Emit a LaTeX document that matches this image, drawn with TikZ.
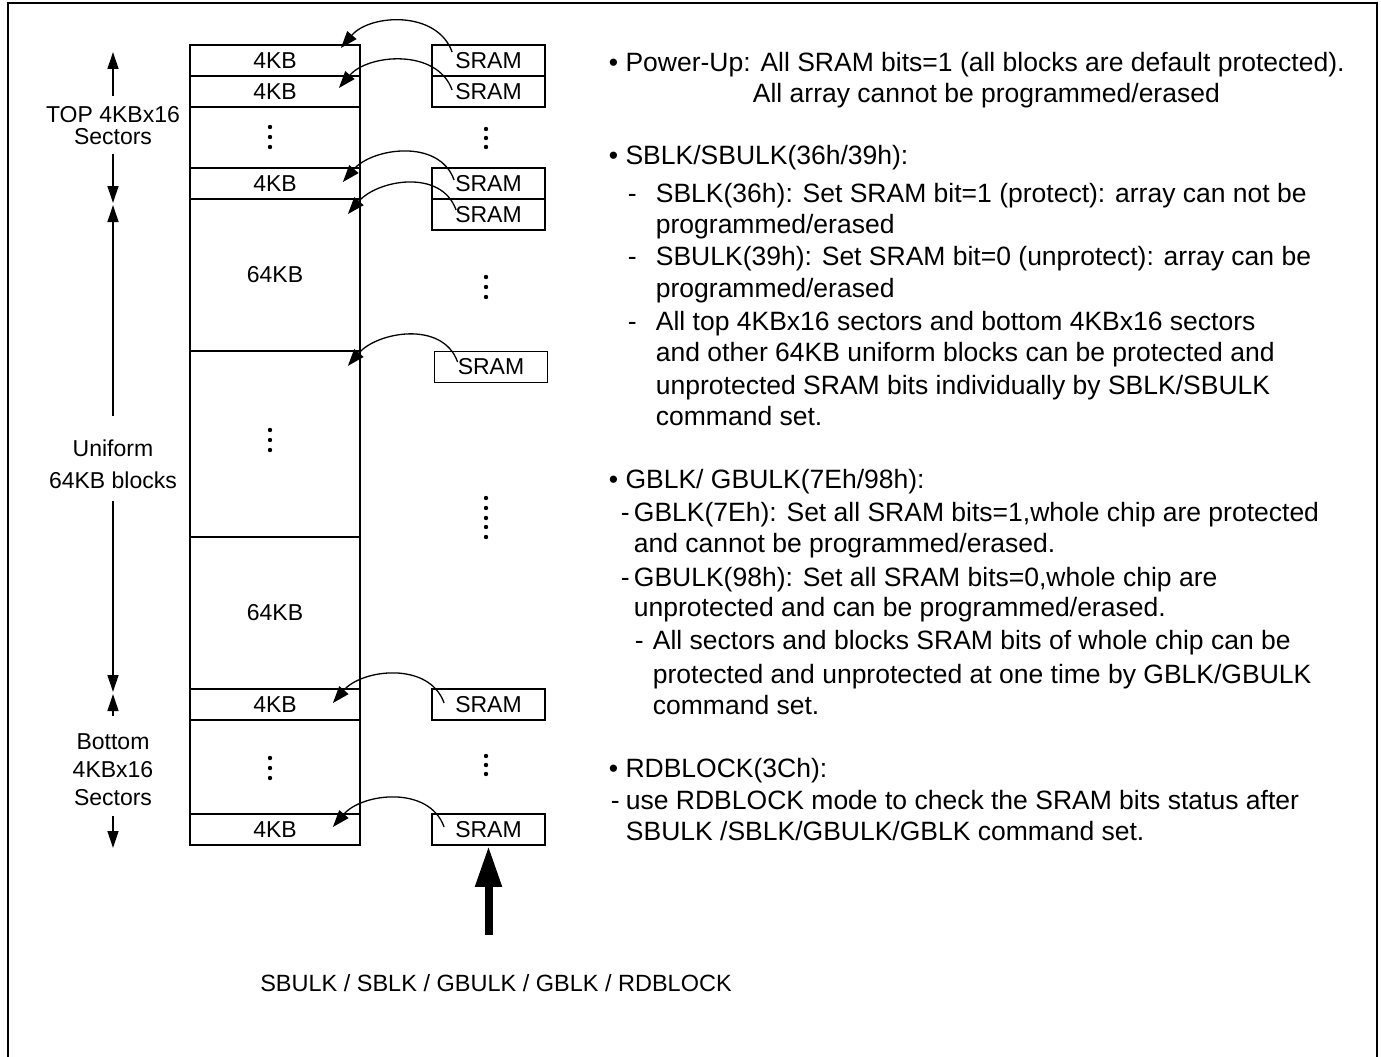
\documentclass[tikz,border=0pt]{standalone}
\usepackage{fontspec}
\setmainfont{Liberation Sans}
\usetikzlibrary{arrows.meta}
\newcommand\dsh[1]{\makebox[#1pt][l]{-}}

\begin{document}
\begin{tikzpicture}[x=1pt,y=-1pt,line width=1.8pt,
    cell/.style={draw,rectangle,inner sep=0pt,minimum width=170pt,font=\fontsize{23}{26}\selectfont},
    sram/.style={draw,rectangle,inner sep=0pt,minimum width=113pt,minimum height=31pt,font=\fontsize{23}{26}\selectfont},
    link/.style={line width=1.3pt,-{Triangle[length=17pt,width=12pt]}},
    span/.style={line width=1.3pt,-{Triangle[length=17pt,width=11pt]}},
    push/.style={line width=8pt,-{Triangle[length=41pt,width=25pt]}},
    side/.style={align=center,inner sep=0pt},
    note/.style={anchor=base west,inner sep=0pt,font=\fontsize{26.5}{32}\selectfont}]
  \useasboundingbox (0,0) rectangle (1381,1057);
  \draw[line width=2pt] (8,1060) |- (1377,3) -- (1377,1060);

  % sector / block column
  \node[cell,minimum height=800pt] (col) at (275,445) {};
  \node[cell,minimum height=31pt] (r1) at (275,60.5) {4KB};
  \node[cell,minimum height=31pt] (r2) at (275,91.5) {4KB};
  \node[cell,minimum height=31pt] (r3) at (275,183.5) {4KB};
  \node[cell,minimum height=152pt] (r4) at (275,275) {64KB};
  \node[cell,minimum height=152pt] (r5) at (275,613) {64KB};
  \node[cell,minimum height=31pt] (r6) at (275,704.5) {4KB};
  \node[cell,minimum height=31pt] (r7) at (275,829.5) {4KB};

  % SRAM bits
  \node[sram] (s1) at (488.5,60.5) {SRAM};
  \node[sram] (s2) at (488.5,91.5) {SRAM};
  \node[sram] (s3) at (488.5,183.5) {SRAM};
  \node[sram] (s4) at (488.5,214.5) {SRAM};
  \node[sram] (s5) at (491,367) {SRAM};
  \node[sram] (s6) at (488.5,704.5) {SRAM};
  \node[sram] (s7) at (488.5,829.5) {SRAM};

  \foreach \y in {127,137,147,430,440,450,758,768,778}
    \fill (270,\y) circle (2.2);
  \foreach \y in {129,138,147,277,287,297,498,508,518,527,537,756,765,774}
    \fill (486,\y) circle (2.2);

  \draw[link] ([shift={(21,-8.5)}]s1.west) .. controls +(-15,-42) and +(29,-34) .. ([shift={(-20,-12.5)}]r1.east);
  \draw[link] ([shift={(21,-1.5)}]s2.west) .. controls +(-15,-42) and +(29,-34) .. ([shift={(-22,-3.5)}]r2.east);
  \draw[link] ([shift={(23,-3.5)}]s3.west) .. controls +(-15,-42) and +(29,-34) .. ([shift={(-18,-1.5)}]r3.east);
  \draw[link] ([shift={(25,-4.5)}]s4.west) .. controls +(-15,-42) and +(29,-34) .. ([shift={(-13,16)}]r4.north east);
  \draw[link] ([shift={(24,-5)}]s5.west) .. controls +(-15,-42) and +(29,-34) .. ([shift={(-13,14)}]r4.south east);
  \draw[link] ([shift={(13,-1.5)}]s6.west) .. controls +(-15,-42) and +(29,-34) .. ([shift={(-28,-1.5)}]r6.east);
  \draw[link] ([shift={(13,-2.5)}]s7.west) .. controls +(-15,-42) and +(29,-34) .. ([shift={(-28,-2.5)}]r7.east);

  % area labels
  \node[side,font=\fontsize{23}{22}\selectfont] (top) at (113,126) {TOP 4KBx16\\Sectors};
  \node[side,font=\fontsize{23}{32}\selectfont] (uni) at (113,464) {Uniform\\64KB blocks};
  \node[side,font=\fontsize{23}{28}\selectfont] (bot) at (113,770) {Bottom\\4KBx16\\Sectors};
  \coordinate (t0) at (113,52);
  \coordinate (t1) at (113,203);
  \coordinate (u0) at (113,205);
  \coordinate (u1) at (113,692);
  \coordinate (b0) at (113,694);
  \coordinate (b1) at (113,848);
  \draw[span] ([shift={(0,-10)}]top.north) -- (t0);
  \draw[span] ([shift={(0,8)}]top.south) -- (t1);
  \draw[span] ([shift={(0,-23)}]uni.north) -- (u0);
  \draw[span] ([shift={(0,12)}]uni.south) -- (u1);
  \draw[span] ([shift={(0,-17)}]bot.north) -- (b0);
  \draw[span] ([shift={(0,9)}]bot.south) -- (b1);

  % commands
  \node[font=\fontsize{23.5}{26}\selectfont] (cmd) at (496,983) {SBULK / SBLK / GBULK / GBLK / RDBLOCK};
  \coordinate (foot) at (488.5,935);
  \draw[push] (foot) -- (s7.south);

  \foreach \y/\x/\t [count=\i] in {
    62/608/{\textbullet\ Power-Up: All SRAM bits=1 (all blocks are default protected).},
    93/752/{All array cannot be programmed/erased},
    155/608/{\textbullet\ SBLK/SBULK(36h/39h):},
    193/627/{\dsh{28}SBLK(36h): Set SRAM bit=1 (protect): array can not be},
    224/655/{programmed/erased},
    256/627/{\dsh{28}SBULK(39h): Set SRAM bit=0 (unprotect): array can be},
    288/655/{programmed/erased},
    321/627/{\dsh{28}All top 4KBx16 sectors and bottom 4KBx16 sectors},
    352/655/{and other 64KB uniform blocks can be protected and},
    385/655/{unprotected SRAM bits individually by SBLK/SBULK},
    416/655/{command set.},
    479/608/{\textbullet\ GBLK/ GBULK(7Eh/98h):},
    512/620/{\dsh{13}GBLK(7Eh): Set all SRAM bits=1,whole chip are protected},
    543/633/{and cannot be programmed/erased.},
    577/620/{\dsh{13}GBULK(98h): Set all SRAM bits=0,whole chip are},
    607/633/{unprotected and can be programmed/erased.},
    640/634/{\dsh{18}All sectors and blocks SRAM bits of whole chip can be},
    674/652/{protected and unprotected at one time by GBLK/GBULK},
    705/652/{command set.},
    768/608/{\textbullet\ RDBLOCK(3Ch):},
    800/610/{\dsh{15}use RDBLOCK mode to check the SRAM bits status after},
    831/625/{SBULK /SBLK/GBULK/GBLK command set.}}
    \node[note] (n\i) at (\x,\y+9.5) {\t};
\end{tikzpicture}
\end{document}
